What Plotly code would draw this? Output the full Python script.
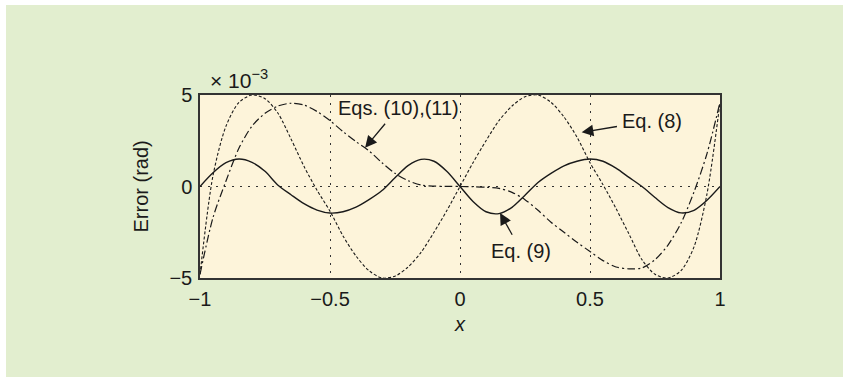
import plotly.graph_objects as go

# sample points along x (normalised input)
x_vals = [-1.00, -0.95, -0.90, -0.85, -0.80, -0.75, -0.70, -0.65, -0.60, -0.55,
          -0.50, -0.45, -0.40, -0.35, -0.30, -0.25, -0.20, -0.15, -0.10, -0.05,
          0.00, 0.05, 0.10, 0.15, 0.20, 0.25, 0.30, 0.35, 0.40, 0.45,
          0.50, 0.55, 0.60, 0.65, 0.70, 0.75, 0.80, 0.85, 0.90, 0.95, 1.00]

# errors in units of 1e-3 rad
err_eq8 = [-4.8, 0.6, 3.3, 4.6, 5.0, 4.8, 4.0, 2.6, 1.1, -0.2,
           -1.35, -2.7, -3.8, -4.6, -5.0, -4.9, -4.4, -3.6, -2.5, -1.3,
           0.0, 1.3, 2.5, 3.6, 4.4, 4.9, 5.0, 4.6, 3.8, 2.7,
           1.3, 0.1, -1.2, -2.6, -4.0, -4.8, -5.0, -4.6, -3.3, -0.4, 4.6]

err_eq9 = [0.0, 0.75, 1.3, 1.5, 1.32, 0.83, 0.07, -0.45, -0.94, -1.29,
           -1.45, -1.38, -1.13, -0.72, -0.22, 0.48, 1.14, 1.48, 1.38, 0.82,
           0.0, -0.82, -1.38, -1.48, -1.14, -0.48, 0.22, 0.72, 1.13, 1.38,
           1.5, 1.38, 1.0, 0.5, 0.0, -0.6, -1.15, -1.44, -1.3, -0.75, 0.0]

err_eq10 = [-4.8, -1.7, 0.3, 2.1, 3.3, 4.0, 4.4, 4.55, 4.45, 4.1,
            3.6, 3.0, 2.45, 1.95, 1.3, 0.72, 0.32, 0.08, 0.02, 0.01,
            0.0, -0.01, -0.04, -0.1, -0.32, -0.72, -1.3, -1.95, -2.5, -3.05,
            -3.55, -4.05, -4.4, -4.5, -4.45, -4.0, -3.2, -2.0, -0.3, 1.8, 4.6]

x_ticks = [-1, -0.5, 0, 0.5, 1]
x_tick_text = ["\u22121", "\u22120.5", "0", "0.5", "1"]
y_ticks = [-5, 0, 5]
y_tick_text = ["\u22125", "0", "5"]

font_family = "Arial, Liberation Sans, sans-serif"
ink = "#1a1a1a"
panel_green = "#e2eecf"

fig = go.Figure()
fig.add_trace(go.Scatter(x=x_vals, y=err_eq8, mode="lines", name="Eq. (8)",
                         line=dict(color=ink, width=1.1, dash="3px,2px", shape="spline", smoothing=0.8)))
fig.add_trace(go.Scatter(x=x_vals, y=err_eq10, mode="lines", name="Eqs. (10),(11)",
                         line=dict(color=ink, width=1.2, dash="8px,3px,2px,3px", shape="spline", smoothing=0.8)))
fig.add_trace(go.Scatter(x=x_vals, y=err_eq9, mode="lines", name="Eq. (9)",
                         line=dict(color=ink, width=1.4, shape="spline", smoothing=0.8)))

axis_common = dict(
    showline=True, mirror=True, linecolor="#333333", linewidth=1.5,
    showgrid=True, gridcolor="#333333", griddash="2px,6px", gridwidth=1.3,
    zeroline=False, ticks="", tickfont=dict(family=font_family, size=20, color=ink),
)

fig.update_xaxes(range=[-1, 1], tickvals=x_ticks, ticktext=x_tick_text,
                 ticklabelstandoff=2, **axis_common)
fig.update_yaxes(range=[-5, 5], tickvals=y_ticks, ticktext=y_tick_text,
                 ticklabelstandoff=2, **axis_common)

# labels with arrows: text centre (data) and arrow head (data)
labels = [
    dict(text="Eqs. (10),(11)", tx=-0.238, ty=4.28, hx=-0.365, hy=2.12),
    dict(text="Eq. (8)", tx=0.74, ty=3.6, hx=0.468, hy=2.96),
    dict(text="Eq. (9)", tx=0.235, ty=-3.51, hx=0.154, hy=-1.45),
]
annotations = []
for lab in labels:
    annotations.append(dict(text=lab["text"], x=lab["hx"], y=lab["hy"], ax=lab["tx"], ay=lab["ty"],
                            xref="x", yref="y", axref="x", ayref="y",
                            showarrow=True, arrowhead=2, arrowsize=1.8, arrowwidth=1.3,
                            arrowcolor=ink, startstandoff=4,
                            font=dict(family=font_family, size=20, color=ink)))

annotations.append(dict(text="\u00d7 10<sup>\u22123</sup>", x=-0.97, y=1.085, xref="x", yref="paper",
                        xanchor="left", yanchor="middle", showarrow=False,
                        font=dict(family=font_family, size=21, color=ink)))
annotations.append(dict(text="Error (rad)", x=-0.1135, y=0, xref="paper", yref="y",
                        xanchor="center", yanchor="middle", textangle=-90, showarrow=False,
                        font=dict(family=font_family, size=20, color=ink)))
annotations.append(dict(text="<i>x</i>", x=0, y=-0.251, xref="x", yref="paper",
                        xanchor="center", yanchor="middle", showarrow=False,
                        font=dict(family=font_family, size=20, color=ink)))

# white border strips on the top and left of the green panel
shapes = [
    dict(type="rect", xref="paper", yref="paper", x0=-1, x1=-0.3731, y0=-2, y1=3,
         fillcolor="white", line=dict(width=0)),
    dict(type="rect", xref="paper", yref="paper", x0=-1, x1=2, y0=1.4918, y1=3,
         fillcolor="white", line=dict(width=0)),
]

fig.update_layout(
    width=843, height=377,
    margin=dict(l=200, r=123, t=95, b=99),
    paper_bgcolor=panel_green,
    plot_bgcolor="#fdf4da",
    showlegend=False,
    annotations=annotations,
    shapes=shapes,
)

page_js = (
    "document.body.style.margin='0';"
    "document.body.style.overflow='hidden';"
    f"document.body.style.background='{panel_green}';"
    f"document.documentElement.style.background='{panel_green}';"
)
fig.write_html("out.html", config={"displayModeBar": False}, post_script=page_js)
